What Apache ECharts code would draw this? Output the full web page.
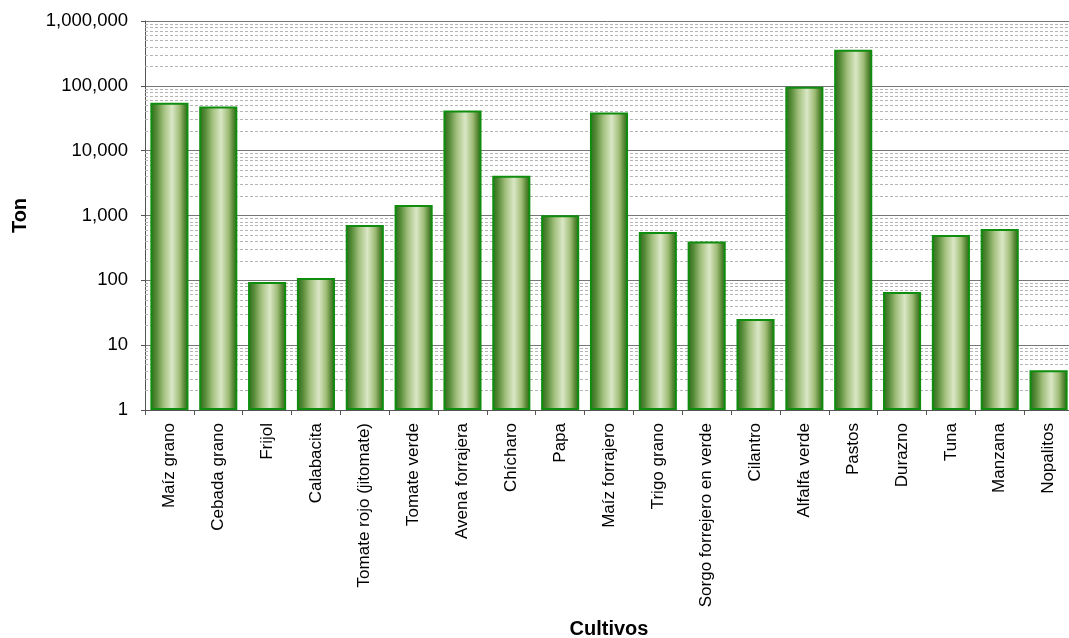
<!DOCTYPE html>
<html>
<head>
<meta charset="utf-8">
<script src="https://cdn.jsdelivr.net/npm/echarts@6/dist/echarts.min.js"></script>
<style>
html,body{margin:0;padding:0;background:#fff;}
#chart{width:1069px;height:638px;}
</style>
</head>
<body>
<div id="chart"></div>
<script>
const categories = ["Maíz grano","Cebada grano","Frijol","Calabacita","Tomate rojo (jitomate)","Tomate verde","Avena forrajera","Chícharo","Papa","Maíz forrajero","Trigo grano","Sorgo forrejero en verde","Cilantro","Alfalfa verde","Pastos","Durazno","Tuna","Manzana","Nopalitos"];
const production = [54700, 47900, 94, 109, 716, 1458, 41600, 4085, 1011, 38700, 558, 398, 25.4, 96600, 359500, 66, 502, 621, 4.1];
const yTicks = [1, 10, 100, 1000, 10000, 100000, 1000000];

const minorLines = [];
for (let k = 0; k < yTicks.length - 1; k++) {
  for (let m = 2; m <= 9; m++) minorLines.push({ yAxis: m * yTicks[k] });
}

const chart = echarts.init(document.getElementById('chart'), null, { renderer: 'canvas' });
const barGradient = new echarts.graphic.LinearGradient(0, 0, 1, 0, [
  { offset: 0, color: '#2c6a1b' },
  { offset: 0.15, color: '#548a36' },
  { offset: 0.35, color: '#a3c07e' },
  { offset: 0.57, color: '#dae7c6' },
  { offset: 0.77, color: '#9fbc76' },
  { offset: 0.9, color: '#548632' },
  { offset: 1, color: '#2a6419' }
]);

chart.setOption({
  animation: false,
  backgroundColor: '#ffffff',
  grid: { left: 145, top: 21, width: 928, height: 389, containLabel: false, outerBoundsMode: 'none' },
  xAxis: {
    type: 'category',
    data: categories,
    name: 'Cultivos',
    nameLocation: 'middle',
    nameGap: 209,
    nameTextStyle: { fontFamily: 'Liberation Sans, Arial, sans-serif', fontWeight: 'bold', fontSize: 20, color: '#000' },
    axisLine: { show: true, lineStyle: { color: '#555', width: 1 } },
    axisTick: { show: true, alignWithLabel: false, length: 5, lineStyle: { color: '#555' } },
    axisLabel: { interval: 0, rotate: 90, margin: 13, fontFamily: 'Liberation Sans, Arial, sans-serif', fontSize: 17, color: '#000' },
    splitLine: { show: false }
  },
  yAxis: {
    type: 'log',
    logBase: 10,
    min: yTicks[0],
    max: yTicks[yTicks.length - 1],
    name: 'Ton',
    nameLocation: 'middle',
    nameRotate: 90,
    nameGap: 115,
    nameTextStyle: { fontFamily: 'Liberation Sans, Arial, sans-serif', fontWeight: 'bold', fontSize: 20, color: '#000' },
    axisLine: { show: true, lineStyle: { color: '#555', width: 1 } },
    axisTick: { show: true, length: 4, lineStyle: { color: '#555' } },
    axisLabel: {
      margin: 17,
      fontFamily: 'Liberation Sans, Arial, sans-serif',
      fontSize: 18.5,
      color: '#000',
      formatter: function (v) { return Math.round(v).toLocaleString('en-US'); }
    },
    splitLine: { show: true, lineStyle: { color: '#777', width: 1 } }
  },
  series: [
    {
      type: 'bar',
      data: production,
      z: 10,
      barCategoryGap: '22%',
      itemStyle: { color: barGradient, borderColor: '#0f8d0f', borderWidth: 2 },
      markLine: {
        silent: true,
        symbol: ['none', 'none'],
        label: { show: false },
        z: 1,
        lineStyle: { color: '#b4b4b4', type: [3, 2], width: 1 },
        data: minorLines
      }
    }
  ]
});
</script>
</body>
</html>
